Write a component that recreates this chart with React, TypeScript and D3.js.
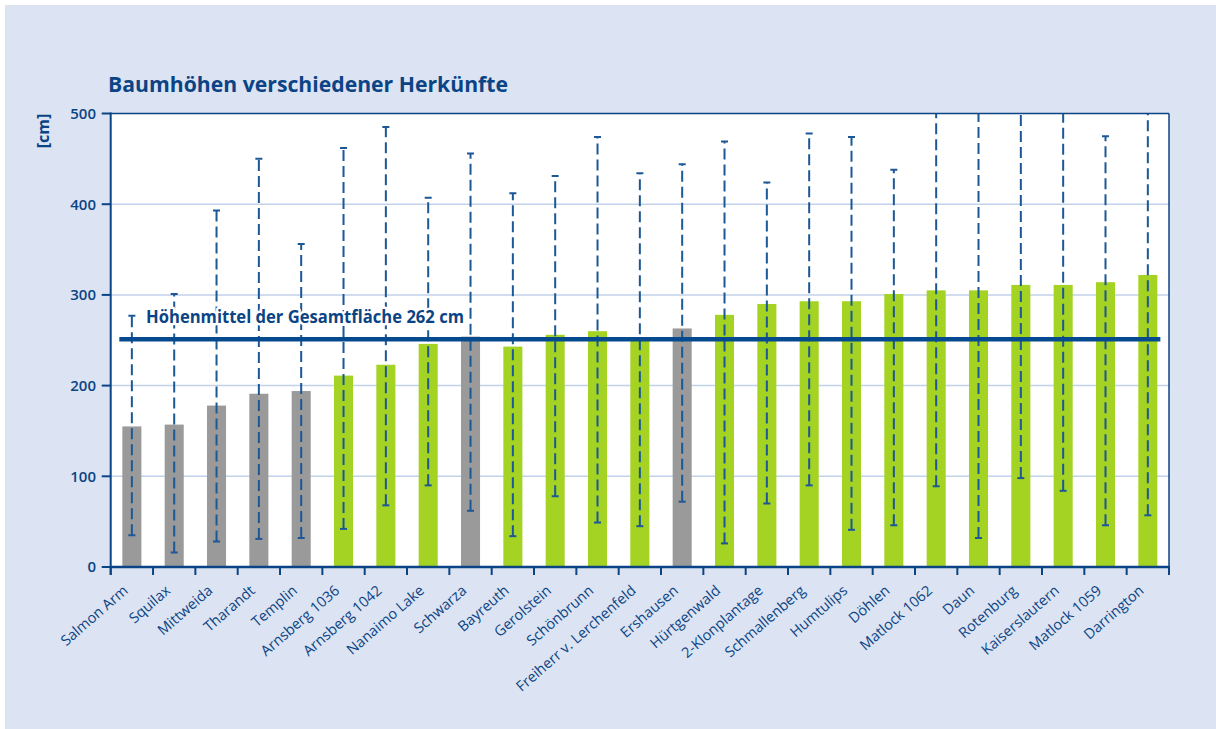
import React from "react";
import * as d3 from "d3";

const categories = [
  "Salmon Arm", "Squilax", "Mittweida", "Tharandt", "Templin", "Arnsberg 1036",
  "Arnsberg 1042", "Nanaimo Lake", "Schwarza", "Bayreuth", "Gerolstein", "Schönbrunn",
  "Freiherr v. Lerchenfeld", "Ershausen", "Hürtgenwald", "2-Klonplantage", "Schmallenberg",
  "Humtulips", "Döhlen", "Matlock 1062", "Daun", "Rotenburg", "Kaiserslautern",
  "Matlock 1059", "Darrington",
];
const heights = [155, 157, 178, 191, 194, 211, 223, 246, 254, 243, 256, 260, 252, 263, 278, 290, 293, 293, 301, 305, 305, 311, 311, 314, 322];
const upper = [277, 301, 393, 450, 356, 462, 485, 407, 456, 412, 431, 474, 434, 444, 469, 424, 478, 474, 438, 560, 560, 560, 560, 475, 560];
const lower = [35, 16, 28, 31, 32, 42, 68, 90, 62, 34, 78, 49, 45, 72, 26, 70, 90, 41, 46, 89, 32, 98, 84, 46, 57];
const groups = [
  "grau", "grau", "grau", "grau", "grau", "grün", "grün", "grün", "grau", "grün", "grün", "grün",
  "grün", "grau", "grün", "grün", "grün", "grün", "grün", "grün", "grün", "grün", "grün", "grün", "grün",
];
const yTicks = [0, 100, 200, 300, 400, 500];
const meanLineValue = 251;
const meanLabel = "Höhenmittel der Gesamtfläche 262 cm";
const title = "Baumhöhen verschiedener Herkünfte";
const yLabel = "[cm]";

const W = 1216;
const H = 729;
const left = 110.7;
const right = 1169;
const top = 113.5;
const bottom = 567;

const BLUE = "#0b4485";
const LINEBLUE = "#1c5796";
const colorOf: Record<string, string> = { grau: "#9a9a9a", "grün": "#a4d323" };
const FONT = "'Open Sans', 'Noto Sans', sans-serif";

export default function App() {
  const x = d3.scaleBand<string>().domain(categories).range([left, right]).paddingInner(0.55).paddingOuter(0.275);
  const y = d3.scaleLinear().domain([0, 500]).range([bottom, top]);
  const bw = x.bandwidth();
  const step = x.step();
  const boundaries = d3.range(categories.length + 1).map((i) => left + i * step);
  const firstX = x(categories[0])!;
  const lastX = x(categories[categories.length - 1])! + bw;

  return (
    <svg width={W} height={H} style={{ position: "absolute", left: 0, top: 0 }} fontFamily={FONT}>
      <defs>
        <clipPath id="plotclip">
          <rect x={left} y={top} width={right - left} height={bottom - top} />
        </clipPath>
      </defs>
      <rect x={0} y={0} width={W} height={H} fill="#ffffff" />
      <rect x={5} y={5} width={W - 5} height={H - 5} fill="#dce3f2" />
      <rect x={left} y={top} width={right - left} height={bottom - top} fill="#ffffff" />

      <text x={108} y={92} fill={BLUE} fontSize={21} fontWeight={700} textLength={400} lengthAdjust="spacingAndGlyphs">{title}</text>

      {yTicks.filter((t) => t > 0 && t < 500).map((t) => (
        <line key={"g" + t} x1={left} x2={right} y1={y(t)} y2={y(t)} stroke="#c2d2ea" strokeWidth={1.5} />
      ))}

      {categories.map((c, i) => (
        <rect key={"b" + c} x={x(c)} y={y(heights[i])} width={bw} height={y(0) - y(heights[i])} fill={colorOf[groups[i]]} />
      ))}

      <g clipPath="url(#plotclip)">
        {categories.map((c, i) => {
          const cx = x(c)! + bw / 2;
          return (
            <g key={"e" + c} stroke={LINEBLUE} strokeWidth={2}>
              <line x1={cx} x2={cx} y1={y(lower[i])} y2={y(upper[i])} strokeDasharray="11 5" />
              <line x1={cx - 3.5} x2={cx + 3.5} y1={y(lower[i])} y2={y(lower[i])} />
              <line x1={cx - 3.5} x2={cx + 3.5} y1={y(upper[i])} y2={y(upper[i])} />
            </g>
          );
        })}
      </g>

      <line x1={firstX - 3} x2={lastX + 3} y1={y(meanLineValue)} y2={y(meanLineValue)} stroke="#054a8f" strokeWidth={4.5} />
      <text x={146} y={322.5} fill={BLUE} fontSize={17.5} fontWeight={700} textLength={318} lengthAdjust="spacingAndGlyphs"
        stroke="#ffffff" strokeWidth={5} strokeLinejoin="round" style={{ paintOrder: "stroke" }}>{meanLabel}</text>

      <line x1={left} x2={right} y1={top} y2={top} stroke={BLUE} strokeWidth={1.5} />
      <line x1={right} x2={right} y1={top} y2={bottom} stroke={BLUE} strokeWidth={1.5} />
      <line x1={left} x2={left} y1={top - 1} y2={bottom + 8} stroke={BLUE} strokeWidth={2} />
      <line x1={left} x2={right + 1} y1={bottom} y2={bottom} stroke={BLUE} strokeWidth={2.5} />

      {yTicks.map((t) => (
        <g key={"yt" + t}>
          <line x1={left - 9} x2={left} y1={y(t)} y2={y(t)} stroke={BLUE} strokeWidth={2} />
          <text x={96} y={y(t)} dy="0.36em" textAnchor="end" fill={BLUE} fontSize={15} fontWeight={600}>{t}</text>
        </g>
      ))}

      {boundaries.map((bx, i) => (
        <line key={"xt" + i} x1={bx} x2={bx} y1={bottom} y2={bottom + 8} stroke={BLUE} strokeWidth={2} />
      ))}

      {categories.map((c) => {
        const cx = x(c)! + bw / 2;
        return (
          <text key={"l" + c} transform={`translate(${cx - 3},${bottom + 25}) rotate(-41)`} textAnchor="end" fill={BLUE} fontSize={14.5} fontWeight={500}>
            {c}
          </text>
        );
      })}

      <text transform={`translate(49,131) rotate(-90)`} textAnchor="middle" fill={BLUE} fontSize={16} fontWeight={700}>{yLabel}</text>
    </svg>
  );
}
